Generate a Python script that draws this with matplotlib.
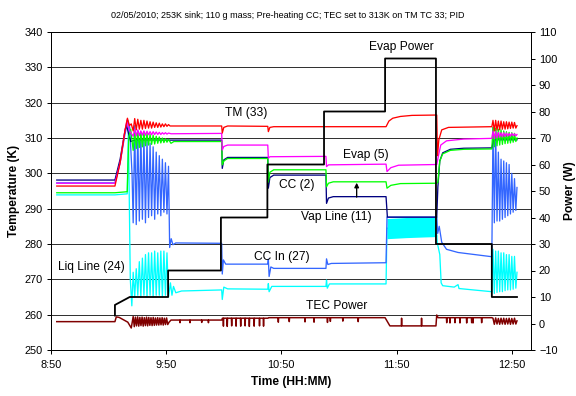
import numpy as np
import matplotlib
matplotlib.use("Agg")
import matplotlib.pyplot as plt

plt.rcParams['font.family'] = ['Liberation Sans', 'DejaVu Sans']

# --- data: minutes after 8:50, temperatures in K, powers in W ---
TICK_MIN = [0, 60, 120, 180, 240]
TICK_LBL = ['8:50', '9:50', '10:50', '11:50', '12:50']

# bursts: readings logged at a fixed interval while the loop oscillates
B1_START, B1_STEP = 42.8, 0.8
B2_START, B2_STEP = 230.2, 0.7

# CC In (27)
blue_t = [3, 33.3, 36, 38.5, 40, 41, 42.2,
          61.8, 62.6, 63.5, 65, 88.9, 89.2, 89.8, 91, 112.9, 113.2, 113.6, 114.5, 116,
          143.2, 143.5, 144.2, 146, 174.5, 175, 200.9, 201.4, 202.2, 203.5, 206, 212, 229.6, 242.7]
blue_v = [297.3, 297.3, 303, 311, 315, 313, 300,
          279, 281.5, 279.8, 280.3, 280.2, 271.5, 275.5, 274.3, 274.3, 275.7, 270.8, 273.5, 273.1,
          273.1, 275.8, 274.2, 274.5, 274.7, 287.6, 287.6, 283, 285, 280.5, 278.5, 277.6, 276.4, 296]
blue_lo1 = [286, 285.5, 286.5, 287, 286, 287.5, 288, 287, 288.5, 288, 289, 288.5]
blue_hi1 = [313.5, 312, 311.5, 310.5, 309.5, 308.5, 307.5, 306, 305, 304, 303, 302]
blue_hi2 = [313, 312, 306, 304, 303.5, 303, 302.5, 300, 298.5]
blue_lo2 = [286, 286.5, 286.5, 287, 287.5, 288, 288.5, 289, 289.5]

# Liq Line (24)
cyan_t = [3, 33.3, 39.7, 40.3, 41.3, 42.1,
          62.2, 63, 63.8, 65, 68, 88.9, 89.2, 90, 92, 112.9, 113.2, 113.6, 115,
          143.2, 143.5, 143.9, 145, 174.5, 175, 200.9, 201.2, 202.5, 203.2, 204, 210, 212, 212.5, 220, 229.6, 242.7]
cyan_v = [293.9, 293.9, 294.2, 313, 270, 262.5,
          269, 265.5, 268, 266.2, 266.7, 267.0, 264.3, 267.8, 267.3, 267.2, 268.8, 266.5, 268,
          268, 269.8, 267.5, 268.7, 268.7, 284.5, 282.5, 280.3, 277, 269, 268.2, 267.8, 268.5, 267.4, 267, 266.5, 272]
cyan_hi1 = [272, 273, 275, 276, 277, 277.5, 277.5, 278, 277.5, 278, 278, 277.5]
cyan_lo1 = [265, 265.5, 265, 265.5, 265, 265.5, 265, 265.5, 265.5, 265, 265.5, 265]
cyan_hi2 = [278.5, 278, 278, 277.5, 277.5, 277, 277, 276.5, 276.5]
cyan_lo2 = [266, 266.3, 266.5, 266.5, 266.8, 267, 267, 267.2, 267.5]
band_t = [175, 185, 195, 200.9]
band_hi = [287.2, 287.5, 287.6, 287.6]
band_lo = [281.5, 281.8, 282, 282.1]

# CC (2)
navy_t = [3, 33.3, 36, 38.5, 39.3, 40.5, 41.5, 44, 62, 88.9, 89.2, 90, 92, 112.9, 113.2, 114, 116,
          143.2, 143.5, 144.5, 147, 174.5, 175.2, 200.9, 201.5, 202.5, 204, 208, 215, 229.6, 230.5, 242.7]
navy_v = [298.1, 298.1, 304, 312, 313.7, 311, 309, 309.5, 309.4, 309.4, 301.4, 303.8, 304.5, 304.5, 295.8, 298.8, 299.5,
          299.5, 291.5, 293, 293.4, 293.4, 287.6, 287.6, 296.2, 303.5, 305.8, 306.8, 307.1, 307.2, 309.5, 309.5]

# Vap Line (11)
green_t = [3, 33.3, 39.7, 40.5, 41.5,
           62.5, 64, 88.9, 89.2, 90, 92, 112.9, 113.2, 114, 116, 143.2, 143.5, 144.5, 147,
           174.5, 175, 177, 182, 200.9, 201.5, 202.5, 204, 208, 215, 229.6, 242.7]
green_v = [294.5, 294.5, 294.8, 310, 312.5,
           308.5, 309, 309, 302.4, 303.5, 304.2, 304.2, 297.5, 300.3, 301, 301, 296.2, 297.2, 297.6,
           297.6, 295.8, 296.6, 297.1, 297.2, 297.5, 303.5, 305.5, 306.5, 306.8, 306.9, 310]
green_lo1 = [306.5, 307, 307.3, 307.5, 307.8, 308, 308.2, 308.3, 308.5, 308.6, 308.7, 308.8]
green_hi1 = [312, 311.8, 311.5, 311.5, 311.3, 311, 310.8, 310.5, 310.3, 310, 309.8, 309.6]
green_hi2 = [313, 312.8, 312.5, 312.3, 312, 311.8, 311.6, 311.5, 311.3]
green_lo2 = [307.5, 307.8, 308, 308.2, 308.4, 308.5, 308.6, 308.8, 309]

# Evap (5)
mag_t = [3, 33.3, 36, 38.5, 39.6, 40.5, 41.5,
         62.5, 88.9, 89.2, 90, 92, 112.9, 113.2, 114, 143.2, 143.5, 144.5,
         174.5, 175, 177, 181, 200.9, 201.8, 203, 206, 215, 229.6, 242.7]
mag_v = [297.2, 297.2, 303, 312, 315.1, 312.5, 311.5,
         311.2, 311.3, 306.6, 307.6, 308, 308, 304.3, 304.7, 304.8, 301.9, 302.4,
         302.6, 300.5, 301.6, 302.3, 302.5, 305, 308, 309.2, 309.7, 309.9, 311]
mag_lo1 = [310.5, 310.6, 310.7, 310.8, 310.8, 310.9, 310.9, 311, 311, 311, 311.1, 311.1]
mag_hi1 = [312.5, 312.3, 312, 312, 311.9, 311.8, 311.8, 311.7, 311.6, 311.5, 311.5, 311.4]
mag_hi2 = [312, 311.8, 311.6, 311.5, 311.5, 311.4, 311.3, 311.3, 311.2]
mag_lo2 = [309.8, 310, 310.2, 310.3, 310.4, 310.5, 310.5, 310.6, 310.6]

# TM (33)
red_t = [3, 33.3, 36, 38.5, 39.8, 40.8, 41.8,
         62, 88.9, 89.2, 90, 92, 112.9, 113.2, 114, 116, 174.5, 176, 178, 182, 188,
         200.9, 201.3, 202, 203.5, 207, 229.6, 242.7]
red_v = [296.4, 296.4, 303, 312, 315.6, 313.5, 314,
         313.4, 313.4, 311.4, 313, 313.4, 313.3, 311.8, 313, 313.2, 313.2, 314.8, 315.6, 316.1, 316.4,
         316.5, 305, 309.5, 312.3, 313, 313.2, 313.5]
red_lo1 = [312, 312.3, 312.5, 312.5, 312.7, 312.8, 312.8, 313, 313, 313.1, 313.2, 313.3]
red_hi1 = [315.5, 315.3, 315, 315, 314.8, 314.6, 314.5, 314.3, 314.2, 314, 314, 313.8]
red_hi2 = [315, 315, 314.8, 314.8, 314.6, 314.6, 314.5, 314.5, 314.4]
red_lo2 = [312, 312.2, 312.3, 312.5, 312.5, 312.6, 312.7, 312.8, 312.8]

# Evap Power (W)
evap_t = [33.3, 33.3, 41, 61, 61, 88.5, 88.5, 112.7, 112.7, 142.2, 142.2, 174, 174, 200.5, 200.5, 229.6, 229.6, 242.7]
evap_p = [3, 7, 10, 10, 20, 20, 40, 40, 60, 60, 80, 80, 100, 100, 30, 30, 10, 10]

# TEC Power (W)
tec_t = [3, 33.3, 34, 35.5, 37.5, 40, 41.8,
         61.5, 62.5, 88.9, 89.3, 113, 113.4, 174, 176.5, 200.5, 200.9, 201.6, 229.6, 242.7]
tec_p = [0.7, 0.7, 2.5, 2.3, 1.5, 0.5, -1.7,
         0.5, 1.3, 1.3, 2.0, 2.0, 2.2, 2.2, -0.9, -0.9, 3.2, 2.2, 2.2, 1.0]
TEC_B1_STEP = 0.58
tec_hi1 = [2.6, 2.4, 2.5, 2.3, 2.4, 2.2, 2.4, 2.3, 2.2, 2.3, 2.1, 2.2, 2.1, 2.2, 2.0, 2.1]
tec_lo1 = [-1.2, -0.9, -1.0, -0.8, -1.0, -0.8, -0.9, -0.7, -0.8, -0.7, -0.6, -0.6, -0.5, -0.6, -0.4, -0.4]
tec_hi2 = [2.0, 2.1, 1.9, 2.0, 2.0, 1.9, 2.0, 1.9, 2.0]
tec_lo2 = [-0.3, -0.2, -0.3, -0.2, -0.3, -0.2, -0.3, -0.2, -0.2]
# short spikes on the TEC trace: (base, times, tips)
tec_spikes = [
    (1.3, [67.2, 72.4, 78.5, 82], [0.3, 0.3, 0.4, 0.3]),
    (2.0, [89.8, 91.8, 94.1, 96.4, 98.8, 101.1, 103.3, 105.8, 108.6, 110.7],
     [-1.0, -1.1, -0.9, -1.0, -1.0, -0.9, -1.1, -1.0, -0.9, -1.0]),
    (2.2, [118.4, 124.1, 132.3, 137, 144, 145.5, 152, 160], [0.5, 0.7, 0.6, 0.5, 0.4, 0.8, 0.9, 0.7]),
    (-0.9, [182.6, 193], [2.0, 2.0]),
    (2.2, [206.1, 207.8, 210.4, 213, 216.5, 219.1, 219.8, 224.3], [0.3, 0.2, 0.3, 0.2, 0.2, 0.3, 0.2, 0.3]),
]


def burst(t0, step, first, second):
    # interleave the two alternating readings
    vals = [v for pair in zip(first, second) for v in pair]
    return list(t0 + step * np.arange(len(vals))), vals


def spikes(base, times, tips):
    ts, vs = [], []
    for t, v in zip(times, tips):
        ts += [t - 0.15, t, t + 0.15]
        vs += [base, v, base]
    return ts, vs


def build(t, v, *extra):
    tt, vv = list(t), list(v)
    for et, ev in extra:
        tt += list(et)
        vv += list(ev)
    order = np.argsort(tt, kind='stable')
    return np.array(tt)[order], np.array(vv)[order]


fig = plt.figure(figsize=(8, 5.5), dpi=72)
ax = fig.add_axes([51 / 576, 46 / 396, 480 / 576, 318 / 396])

ax.fill_between(band_t, band_lo, band_hi, color='#00FFFF', lw=0, zorder=2)

series = [
    ('#00FFFF', cyan_t, cyan_v, (B1_START, B1_STEP, cyan_hi1, cyan_lo1), (B2_START, B2_STEP, cyan_hi2, cyan_lo2)),
    ('#3366FF', blue_t, blue_v, (B1_START, B1_STEP, blue_lo1, blue_hi1), (B2_START, B2_STEP, blue_hi2, blue_lo2)),
    ('#000080', navy_t, navy_v, None, None),
    ('#00FF00', green_t, green_v, (B1_START, B1_STEP, green_lo1, green_hi1), (B2_START, B2_STEP, green_hi2, green_lo2)),
    ('#FF00FF', mag_t, mag_v, (B1_START, B1_STEP, mag_lo1, mag_hi1), (B2_START, B2_STEP, mag_hi2, mag_lo2)),
    ('#FF0000', red_t, red_v, (B1_START, B1_STEP, red_lo1, red_hi1), (B2_START, B2_STEP, red_hi2, red_lo2)),
]
for color, t, v, b1, b2 in series:
    extra = [burst(*b) for b in (b1, b2) if b is not None]
    tt, vv = build(t, v, *extra)
    ax.plot(tt, vv, color=color, lw=1.3, zorder=3)

ax.set_xlim(0, 250)
ax.set_ylim(250, 340)
ax.set_yticks(range(250, 341, 10))
ax.set_xticks(TICK_MIN)
ax.set_xticklabels(TICK_LBL)
ax.yaxis.grid(True, color='black', lw=0.8)
ax.set_axisbelow(True)
ax.tick_params(direction='out', length=4, width=1, labelsize=11, pad=4)
ax.tick_params(axis='x', pad=6)
for s in ax.spines.values():
    s.set_color('black')
    s.set_linewidth(1)
ax.set_ylabel('Temperature (K)', fontsize=12, fontweight='bold', labelpad=5)
ax.set_xlabel('Time (HH:MM)', fontsize=12, fontweight='bold', labelpad=6)

# power axis
ax2 = ax.twinx()
tt, pp = build(tec_t, tec_p, burst(B1_START, TEC_B1_STEP, tec_hi1, tec_lo1),
               burst(B2_START, B2_STEP, tec_hi2, tec_lo2), *[spikes(*s) for s in tec_spikes])
ax2.plot(tt, pp, color='#800000', lw=1.5)
ax2.plot(evap_t, evap_p, color='black', lw=1.8)
ax2.set_ylim(-10, 110)
ax2.set_yticks(range(-10, 111, 10))
ax2.tick_params(direction='out', length=4, width=1, labelsize=11, pad=4)
ax2.set_ylabel('Power (W)', fontsize=12, fontweight='bold', labelpad=6)

# curve labels
lbl = dict(fontsize=12, ha='center', va='center', zorder=6)
ax.text(182.3, 335.8, 'Evap Power', **lbl)
ax.text(101.9, 317.0, 'TM (33)', **lbl)
ax.text(164.1, 305.2, 'Evap (5)', **lbl)
ax.text(128.0, 296.7, 'CC (2)', **lbl)
ax.text(148.4, 287.7, 'Vap Line (11)', **lbl)
ax.text(120.1, 276.4, 'CC In (27)', **lbl)
ax.text(20.8, 273.6, 'Liq Line (24)', **lbl)
ax.text(148.8, 262.4, 'TEC Power', **lbl)
ax.annotate('', xy=(159.2, 297.9), xytext=(159.2, 292.7),
            arrowprops=dict(arrowstyle='-|>', color='black', lw=1.3, mutation_scale=9), zorder=6)

fig.text(0.5, 1 - 16 / 396,
         '02/05/2010; 253K sink; 110 g mass; Pre-heating CC; TEC set to 313K on TM TC 33; PID',
         fontsize=9, ha='center', va='center')

fig.savefig('out.png', dpi=72)
